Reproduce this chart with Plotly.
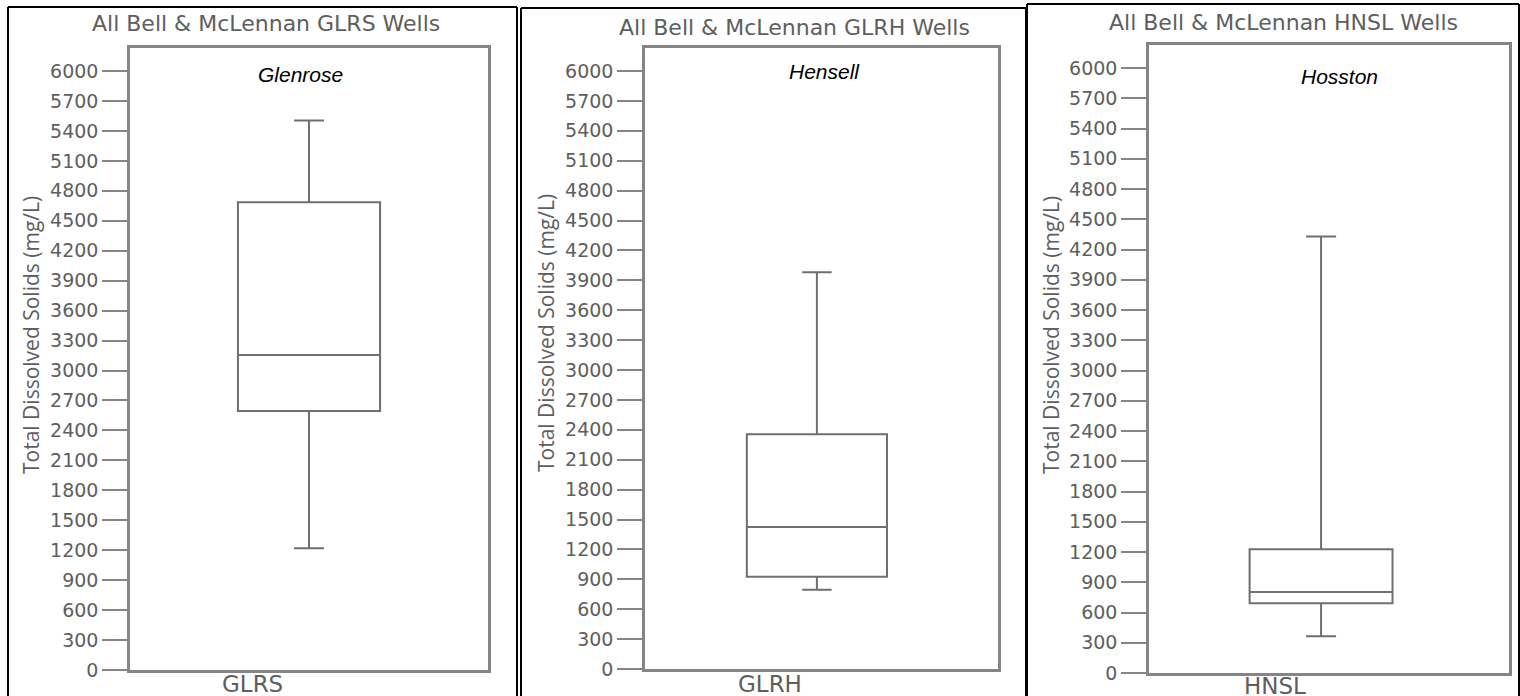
import plotly.graph_objects as go

W, H = 1520, 696          # reference picture size (coordinates below are in these pixels)
FIG_H = 707               # page height that is captured into the 696-px picture

# ---- data ----
categories = ["GLRS", "GLRH", "HNSL"]
formations = ["Glenrose", "Hensell", "Hosston"]
titles = ["All Bell & McLennan GLRS Wells",
          "All Bell & McLennan GLRH Wells",
          "All Bell & McLennan HNSL Wells"]
lower_whisker = [1220, 795, 365]
q1_values = [2595, 925, 692]
median_values = [3155, 1425, 803]
q3_values = [4685, 2355, 1228]
upper_whisker = [5505, 3980, 4330]
tick_values = list(range(0, 6001, 300))
y_title = "Total Dissolved Solids (mg/L)"

# ---- layout helpers (pixel -> paper) ----
def px(x):
    return x / W

def py(y):
    return 1 - y / H

# plot frames in pixels: (left, right, top_frame, zero_y, y6000)
frames = [(130, 488, 48, 670, 71),
          (645, 998, 48, 669, 71),
          (1149, 1509, 45, 673, 68)]
box_center_offset = [0.0, -0.013, -0.022]
panel_rects = [(8, 517, 7), (521, 1026, 8), (1027, 1519, 4)]
title_pos = [(266, 24), (794, 27), (1283, 22)]
form_pos = [(300, 75), (824, 72), (1339, 76)]
ytitle_pos = [(31, 335), (546, 333), (1051, 335)]
xlabel_pos = [(253, 684), (770, 684), (1275, 686)]

GRAY_LINE = "#858585"
BOX_LINE = "#6f6f6f"
TEXT_GRAY = "#5e5e5e"

fig = go.Figure()
layout = dict(width=W, height=FIG_H, autosize=False, margin=dict(l=0, r=0, t=0, b=0, pad=0),
              paper_bgcolor="white", plot_bgcolor="white", showlegend=False)

annotations = []
shapes = []

for i in range(3):
    left, right, top, zero, y6k = frames[i]
    scale = (zero - y6k) / 6000.0
    ytop = 6000 + (y6k - top) / scale
    xa = "xaxis" if i == 0 else f"xaxis{i+1}"
    ya = "yaxis" if i == 0 else f"yaxis{i+1}"
    xref = "x" if i == 0 else f"x{i+1}"
    yref = "y" if i == 0 else f"y{i+1}"

    fig.add_trace(go.Box(
        x=[categories[i]],
        q1=[q1_values[i]], median=[median_values[i]], q3=[q3_values[i]],
        lowerfence=[lower_whisker[i]], upperfence=[upper_whisker[i]],
        width=0.397, whiskerwidth=0.21,
        fillcolor="white", line=dict(color=BOX_LINE, width=2),
        boxpoints=False, hoverinfo="skip",
        xaxis=xref, yaxis=yref,
    ))

    off = box_center_offset[i]
    layout[xa] = dict(domain=[px(left), px(right)], anchor=yref,
                      type="category", range=[-0.5 - off, 0.5 - off],
                      showline=True, mirror=True, linecolor=GRAY_LINE, linewidth=2.5,
                      showticklabels=False, ticks="", showgrid=False, zeroline=False)
    layout[ya] = dict(domain=[py(zero), py(top)], anchor=xref,
                      range=[0, ytop], tickvals=tick_values,
                      ticktext=[str(v) for v in tick_values],
                      ticks="outside", ticklen=25, tickwidth=2, tickcolor=GRAY_LINE,
                      tickfont=dict(family="DejaVu Sans", size=19, color=TEXT_GRAY),
                      showline=True, mirror=True, linecolor=GRAY_LINE, linewidth=2.5,
                      showgrid=False, zeroline=False)

    annotations.append(dict(text=titles[i], x=px(title_pos[i][0]), y=py(title_pos[i][1]),
                            xref="paper", yref="paper", showarrow=False,
                            xanchor="center", yanchor="middle",
                            font=dict(family="DejaVu Sans", size=22, color=TEXT_GRAY)))
    annotations.append(dict(text=f"<i>{formations[i]}</i>", x=px(form_pos[i][0]), y=py(form_pos[i][1]),
                            xref="paper", yref="paper", showarrow=False,
                            xanchor="center", yanchor="middle",
                            font=dict(family="Liberation Sans", size=21, color="black")))
    annotations.append(dict(text=y_title, x=px(ytitle_pos[i][0]), y=py(ytitle_pos[i][1]),
                            xref="paper", yref="paper", showarrow=False, textangle=-90,
                            xanchor="center", yanchor="middle",
                            font=dict(family="Open Sans", size=21, color=TEXT_GRAY)))
    annotations.append(dict(text=categories[i], x=px(xlabel_pos[i][0]), y=py(xlabel_pos[i][1]),
                            xref="paper", yref="paper", showarrow=False,
                            xanchor="center", yanchor="middle",
                            font=dict(family="DejaVu Sans", size=23, color=TEXT_GRAY)))

    # outer panel border: left, top, right (open at the bottom)
    x0, x1, y0 = panel_rects[i]
    border = dict(color="black", width=2)
    shapes.append(dict(type="line", xref="paper", yref="paper", layer="above",
                       x0=px(x0), x1=px(x0), y0=0, y1=py(y0), line=border))
    shapes.append(dict(type="line", xref="paper", yref="paper", layer="above",
                       x0=px(x0), x1=px(x1), y0=py(y0), y1=py(y0), line=border))
    shapes.append(dict(type="line", xref="paper", yref="paper", layer="above",
                       x0=px(x1), x1=px(x1), y0=0, y1=py(y0), line=border))

layout["annotations"] = annotations
layout["shapes"] = shapes
fig.update_layout(**layout)
fig.write_html("out.html", config={"displayModeBar": False, "responsive": False},
               default_width="1520px", default_height=f"{FIG_H}px",
               post_script="document.body.style.margin='0';document.body.style.overflow='hidden';")
